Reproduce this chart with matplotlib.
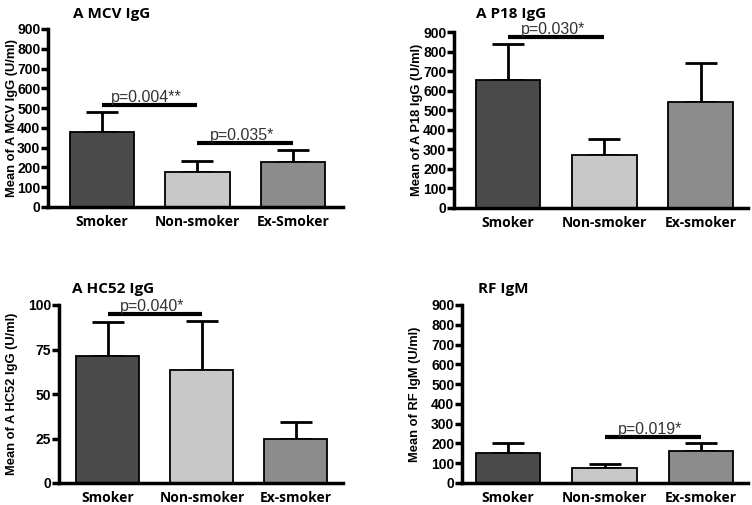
import matplotlib
matplotlib.use("Agg")
import matplotlib.pyplot as plt
from matplotlib.transforms import blended_transform_factory

categories_a = ["Smoker", "Non-smoker", "Ex-Smoker"]
categories_b = ["Smoker", "Non-smoker", "Ex-smoker"]

titles = ["A MCV IgG", "A P18 IgG", "A HC52 IgG", "RF IgM"]
ylabels = ["Mean of A MCV IgG (U/ml)", "Mean of A P18 IgG (U/ml)",
           "Mean of A HC52 IgG (U/ml)", "Mean of RF IgM (U/ml)"]

mcv_means = [380, 175, 225]
mcv_err = [100, 60, 65]
p18_means = [655, 270, 540]
p18_err = [185, 85, 200]
hc52_means = [71.5, 63.3, 24.5]
hc52_err = [19, 27.5, 9.8]
rf_means = [150, 77, 162]
rf_err = [50, 21, 38]

yticks_900 = [0, 100, 200, 300, 400, 500, 600, 700, 800, 900]
yticks_100 = [0, 25, 50, 75, 100]

# significance: (from, to, y, label)
mcv_sig = [(0, 1, 515, "p=0.004**"), (1, 2, 325, "p=0.035*")]
p18_sig = [(0, 1, 872, "p=0.030*")]
hc52_sig = [(0, 1, 95, "p=0.040*")]
rf_sig = [(1, 2, 232, "p=0.019*")]

colors = ["#4a4a4a", "#c8c8c8", "#8c8c8c"]

W, H = 752, 505
fig = plt.figure(figsize=(W / 100, H / 100), dpi=100)

def rect(l, r, t, b):
    return [l / W, 1 - b / H, (r - l) / W, (b - t) / H]

panels = [
    dict(rect=rect(48, 343, 29, 207), xlim=(-0.56, 2.52), cats=categories_a,
         means=mcv_means, err=mcv_err, ylim=900, yticks=yticks_900, sig=mcv_sig,
         title=titles[0], ylabel=ylabels[0], tx=73, ty=7, lx=18),
    dict(rect=rect(454, 748, 32, 208), xlim=(-0.56, 2.49), cats=categories_b,
         means=p18_means, err=p18_err, ylim=900, yticks=yticks_900, sig=p18_sig,
         title=titles[1], ylabel=ylabels[1], tx=476, ty=7, lx=423),
    dict(rect=rect(59, 343, 305, 483), xlim=(-0.52, 2.5), cats=categories_b,
         means=hc52_means, err=hc52_err, ylim=100, yticks=yticks_100, sig=hc52_sig,
         title=titles[2], ylabel=ylabels[2], tx=72, ty=282, lx=18),
    dict(rect=rect(462, 748, 305, 483), xlim=(-0.48, 2.49), cats=categories_b,
         means=rf_means, err=rf_err, ylim=900, yticks=yticks_900, sig=rf_sig,
         title=titles[3], ylabel=ylabels[3], tx=478, ty=282, lx=421),
]

for p in panels:
    ax = fig.add_axes(p["rect"])
    x = list(range(len(p["cats"])))
    ax.bar(x, p["means"], width=0.67, color=colors, edgecolor="black",
           linewidth=1.3, zorder=2)
    ax.errorbar(x, p["means"], yerr=[[0] * 3, p["err"]], fmt="none",
                ecolor="black", elinewidth=2, capsize=11.5, capthick=2, zorder=1)
    ax.set_xlim(*p["xlim"])
    ax.set_ylim(0, p["ylim"])
    ax.set_yticks(p["yticks"])
    ax.set_xticks(x)
    ax.set_xticklabels(p["cats"], fontsize=10, fontweight="bold", family="Open Sans")
    ax.tick_params(axis="x", length=0, pad=6)
    ax.tick_params(axis="y", length=5, width=2.5, direction="out", pad=0.5,
                   labelsize=10)
    for lab in ax.get_yticklabels():
        lab.set_fontweight("bold")
        lab.set_family("Liberation Sans")
    for s in ["top", "right"]:
        ax.spines[s].set_visible(False)
    for s in ["left", "bottom"]:
        ax.spines[s].set_linewidth(2.5)
    ax.set_ylabel(p["ylabel"], fontsize=9.3, fontweight="bold",
                  family="Liberation Sans")
    ax.yaxis.set_label_coords(p["lx"] / W, 0.5,
                              transform=blended_transform_factory(fig.transFigure, ax.transAxes))
    for (a, b, y, lab) in p["sig"]:
        ax.plot([a, b], [y, y], color="black", linewidth=3, solid_capstyle="butt",
                clip_on=False, zorder=3)
        ax.text((a + b) / 2 - 0.03, y, lab, ha="center", va="bottom",
                fontsize=11.5, color="#333333", family="Liberation Sans")
    fig.text(p["tx"] / W, 1 - p["ty"] / H, p["title"], ha="left", va="top",
             fontsize=11, fontweight="bold", family="Open Sans")

fig.savefig("out.png", dpi=100)
